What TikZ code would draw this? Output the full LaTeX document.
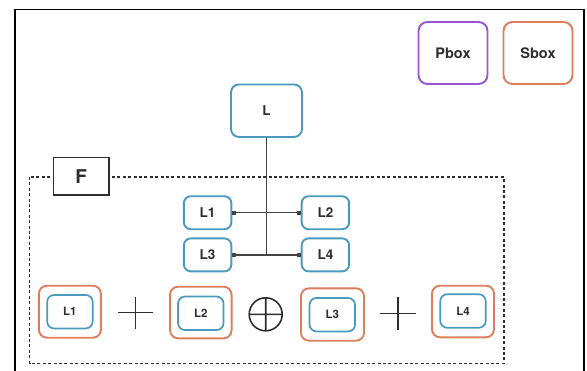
\documentclass[tikz,border=0pt]{standalone}
\usepackage{fontspec}
\setmainfont{TeX Gyre Heros}
\usetikzlibrary{arrows.meta,calc}
\definecolor{lblue}{HTML}{4A9AC0}
\definecolor{sorange}{HTML}{DE7E5C}
\definecolor{ppurple}{HTML}{9B55D2}
\definecolor{ink}{HTML}{2E2E2E}
\definecolor{wire}{HTML}{444444}
\tikzset{
  lbox/.style={draw=lblue, line width=1.9pt, rounded corners=7pt, fill=white,
    text=ink, font=\bfseries\fontsize{13.5}{13.5}\selectfont, inner sep=0pt},
  sbox/.style={draw=sorange, line width=1.9pt, rounded corners=8pt, fill=white, inner sep=0pt},
  pbox/.style={draw=ppurple, line width=1.9pt, rounded corners=9pt, fill=white, inner sep=0pt},
  legendtext/.style={text=ink, font=\bfseries\fontsize{14.5}{14.5}\selectfont},
  wireline/.style={draw=wire, line width=1.3pt},
  dotends/.style={{Square[length=4pt,width=4pt]}-{Square[length=4pt,width=4pt]}},
  opsym/.style={draw=ink, line width=1.6pt},
}
\begin{document}
\begin{tikzpicture}[x=1pt,y=-1pt]
\useasboundingbox (0,0) rectangle (587,370);
\fill[white] (0,0) rectangle (587,370);
% outer frame
\draw[black, line width=1.4pt] (15,378) -- (15,9.5) -- (584,9.5) -- (584,378);

% legend
\node[pbox, legendtext, minimum width=69pt, minimum height=62pt] (pb) at (453,53) {Pbox};
\node[sbox, legendtext, minimum width=69pt, minimum height=62pt, rounded corners=9pt] (sb) at (538,53) {Sbox};

% function region
\draw[draw=ink, line width=1.3pt, dash pattern=on 3pt off 2.4pt] (29.5,177) rectangle (504,363.5);
\node[draw=ink, line width=1.4pt, fill=white, minimum width=55.5pt, minimum height=37.5pt,
  inner sep=0pt, text=ink, font=\bfseries\fontsize{19}{19}\selectfont] (F) at (81.3,176.3) {F};

% source block and its four quarters
\node[lbox, minimum width=71pt, minimum height=52.5pt, rounded corners=8pt] (L) at (266.5,110.7) {L};
\node[lbox, minimum width=47.5pt, minimum height=33pt] (a1) at (207.6,212.7) {L1};
\node[lbox, minimum width=47.5pt, minimum height=33pt] (a2) at (325.4,212.7) {L2};
\node[lbox, minimum width=47.5pt, minimum height=33pt] (a3) at (207.6,254.9) {L3};
\node[lbox, minimum width=47.5pt, minimum height=33pt] (a4) at (325.4,254.9) {L4};
\coordinate (jb) at (266.5,254.9);
\draw[wireline] (L.south) -- (jb);
\draw[wireline, dotends] (a1.east) -- (a2.west);
\draw[wireline, dotends] (a3.east) -- (a4.west);

% substituted quarters
\node[sbox, minimum width=62pt, minimum height=52pt] (s1) at (69.9,311.7) {};
\node[sbox, minimum width=61.5pt, minimum height=51.6pt] (s2) at (200.8,312.5) {};
\node[sbox, minimum width=63pt, minimum height=52.4pt] (s3) at (332.5,314.5) {};
\node[sbox, minimum width=62pt, minimum height=51.6pt] (s4) at (463,311.5) {};
\tikzset{inner/.style={lbox, minimum width=45.5pt, minimum height=33.5pt, line width=1.7pt,
  font=\bfseries\fontsize{11.5}{11.5}\selectfont}}
\node[inner] (b1) at (s1) {L1};
\node[inner] (b2) at (200.8,313.3) {L2};
\node[inner] (b3) at (332.3,314.7) {L3};
\node[inner] (b4) at (463,311) {L4};

% operators
\coordinate (p1) at (135.5,312.5);
\coordinate (x1) at (265.7,314.3);
\coordinate (p2) at (398,313.5);
\draw[opsym] ($(p1)+(-17.5,0)$) -- ($(p1)+(17.5,0)$) ($(p1)+(0,-16)$) -- ($(p1)+(0,16)$);
\draw[opsym] (x1) circle (16.5pt) ($(x1)+(-16.5,0)$) -- ($(x1)+(16.5,0)$) ($(x1)+(0,-16.5)$) -- ($(x1)+(0,16.5)$);
\draw[opsym] ($(p2)+(-18,0)$) -- ($(p2)+(18,0)$) ($(p2)+(0,-16.5)$) -- ($(p2)+(0,16.5)$);
\end{tikzpicture}
\end{document}
